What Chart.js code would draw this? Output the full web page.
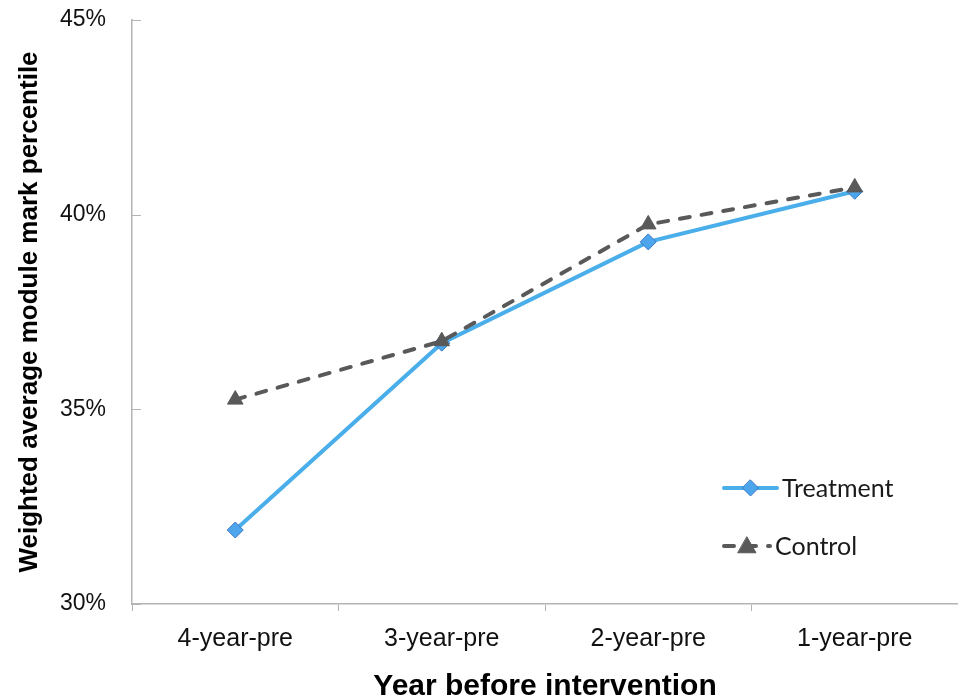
<!DOCTYPE html>
<html>
<head>
<meta charset="utf-8">
<script src="https://cdn.jsdelivr.net/npm/chart.js@4.4.1/dist/chart.umd.min.js"></script>
<style>
  html, body { margin: 0; padding: 0; background: #fff; }
  #wrap { width: 958px; height: 698px; }
</style>
</head>
<body>
<div id="wrap"><canvas id="chart" width="958" height="698"></canvas></div>
<script>
// categories and series values
const years = ["4-year-pre", "3-year-pre", "2-year-pre", "1-year-pre"];
const treatment = [31.9, 36.7, 39.3, 40.6];
const control = [35.25, 36.75, 39.75, 40.7];
const yTicks = [30, 35, 40, 45];

const blue = "#4aaeea";
const grey = "#595959";
const axisGrey = "#b4b4b4";

// small inward ticks on the y axis
const innerTicks = {
  id: "innerTicks",
  afterDraw(chart) {
    const ctx = chart.ctx;
    const y = chart.scales.y;
    ctx.save();
    ctx.strokeStyle = axisGrey;
    ctx.lineWidth = 1;
    yTicks.forEach((v) => {
      const py = Math.round(y.getPixelForValue(v)) + 0.5;
      ctx.beginPath();
      ctx.moveTo(y.right, py);
      ctx.lineTo(y.right + 9, py);
      ctx.stroke();
    });
    ctx.restore();
  },
};

function drawMarker(ctx, style, r, x, y) {
  if (style === "rectRot") {
    ctx.moveTo(x, y - r);
    ctx.lineTo(x + r, y);
    ctx.lineTo(x, y + r);
    ctx.lineTo(x - r, y);
    ctx.closePath();
  } else {
    ctx.moveTo(x, y - r);
    ctx.lineTo(x + r, y + r * 0.75);
    ctx.lineTo(x - r, y + r * 0.75);
    ctx.closePath();
  }
}

// legend drawn inside the plot, lower right
const innerLegend = {
  id: "innerLegend",
  afterDraw(chart) {
    const ctx = chart.ctx;
    const items = [
      { ds: chart.data.datasets[0], y: 488, x0: 724, x1: 777 },
      { ds: chart.data.datasets[1], y: 546, x0: 724, x1: 770 },
    ];
    ctx.save();
    items.forEach((it) => {
      const ds = it.ds;
      ctx.strokeStyle = ds.borderColor;
      ctx.lineWidth = ds.borderWidth;
      ctx.lineCap = "round";
      ctx.setLineDash(ds.borderDash || []);
      ctx.beginPath();
      ctx.moveTo(it.x0, it.y);
      ctx.lineTo(it.x1, it.y);
      ctx.stroke();
      ctx.setLineDash([]);
      ctx.fillStyle = ds.pointBackgroundColor;
      ctx.strokeStyle = ds.pointBorderColor;
      ctx.lineWidth = ds.pointBorderWidth;
      ctx.beginPath();
      drawMarker(ctx, ds.pointStyle, ds.pointRadius, (it.x0 + it.x1) / 2, it.y);
      ctx.fill();
      ctx.stroke();
      ctx.fillStyle = "#1a1a1a";
      ctx.font = "25px Lato";
      ctx.textBaseline = "middle";
      ctx.fillText(ds.label, it.x1 + 5, it.y + 1);
    });
    ctx.restore();
  },
};

new Chart(document.getElementById("chart"), {
  type: "line",
  data: {
    labels: years,
    datasets: [
      {
        label: "Treatment",
        data: treatment,
        borderColor: blue,
        borderWidth: 4,
        pointStyle: "rectRot",
        pointRadius: 8,
        pointBackgroundColor: "#4da6ec",
        pointBorderColor: "#3a78c8",
        pointBorderWidth: 1,
        tension: 0,
        order: 1,
      },
      {
        label: "Control",
        data: control,
        borderColor: grey,
        borderWidth: 4,
        borderDash: [10, 12],
        borderCapStyle: "round",
        pointStyle: "triangle",
        pointRadius: 9,
        pointBackgroundColor: grey,
        pointBorderColor: grey,
        pointBorderWidth: 1,
        tension: 0,
        order: 0,
      },
    ],
  },
  options: {
    responsive: false,
    devicePixelRatio: 1,
    animation: false,
    layout: { autoPadding: false, padding: { top: 20, right: 0, left: 0, bottom: 0 } },
    plugins: {
      legend: { display: false },
      tooltip: { enabled: false },
    },
    scales: {
      x: {
        offset: true,
        afterFit: (s) => { s.height = 94; },
        grid: {
          offset: true,
          drawOnChartArea: false,
          drawTicks: true,
          tickLength: 7,
          color: axisGrey,
          tickColor: axisGrey,
        },
        border: { color: axisGrey, width: 1.5 },
        ticks: {
          color: "#111",
          font: { family: "'Liberation Sans', Arial", size: 25 },
          padding: 13,
          maxRotation: 0,
        },
        title: {
          display: true,
          text: "Year before intervention",
          color: "#000",
          font: { family: "'Liberation Sans', Arial", size: 30, weight: "bold" },
          padding: { top: 0, bottom: -7 },
        },
      },
      y: {
        min: 30,
        max: 45,
        afterFit: (s) => { s.width = 132; s.paddingTop = 0; s.paddingBottom = 0; },
        afterBuildTicks: (s) => { s.ticks = yTicks.map((v) => ({ value: v })); },
        grid: { drawOnChartArea: false, drawTicks: false },
        border: { color: axisGrey, width: 1.5 },
        ticks: {
          color: "#111",
          font: { family: "'Liberation Sans', Arial", size: 23 },
          padding: 26,
          callback: (v) => v + "%",
        },
        title: {
          display: true,
          text: "Weighted average module mark percentile",
          color: "#000",
          font: { family: "'Liberation Sans', Arial", size: 26, weight: "bold" },
          padding: { top: 14, bottom: 0 },
        },
      },
    },
  },
  plugins: [innerTicks, innerLegend],
});
</script>
</body>
</html>
